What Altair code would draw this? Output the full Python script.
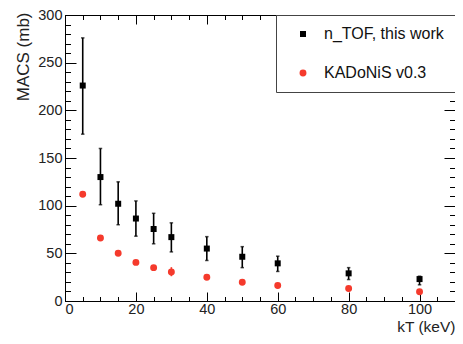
import altair as alt
import pandas as pd

# ---- data ----
kT = [5, 10, 15, 20, 25, 30, 40, 50, 60, 80, 100]
ntof = [226, 130, 102, 86.5, 75.5, 67, 55, 46.4, 39.5, 29, 23]
ntof_lo = [175, 101, 80, 68, 60, 51.5, 42.5, 35, 31, 22.5, 17]
ntof_hi = [276, 160, 125, 105, 92, 82, 67.5, 57, 47, 35, 26]
kad = [112, 66, 50, 40.5, 35, 30.5, 25, 19.7, 16.3, 13.2, 9.7]
kad_lo = [112, 66, 50, 38.5, 35, 26, 25, 19.7, 16.3, 13.2, 9.7]
kad_hi = [112, 66, 50, 42.5, 35, 35.5, 25, 19.7, 16.3, 13.2, 9.7]
series_names = ["n_TOF, this work", "KADoNiS v0.3"]
series_colors = ["#000000", "#f53a2c"]
series_shapes = ["square", "circle"]
x_labels = [0, 20, 40, 60, 80, 100]
x_minor = [0, 5, 10, 15, 20, 25, 30, 35, 40, 45, 50, 55, 60, 65, 70, 75, 80, 85, 90, 95, 100, 105, 110]
y_labels = [0, 50, 100, 150, 200, 250, 300]
y_minor = list(range(0, 301, 10))

W, H = 390, 286
FONT = "Liberation Sans"

df_ntof = pd.DataFrame({"kT": kT, "v": ntof, "lo": ntof_lo, "hi": ntof_hi,
                        "series": series_names[0]})
df_kad = pd.DataFrame({"kT": kT, "v": kad, "lo": kad_lo, "hi": kad_hi,
                       "series": series_names[1]})
df_all = pd.concat([df_ntof, df_kad], ignore_index=True)

xs = alt.Scale(domain=[0, 110], nice=False, zero=False)
ys = alt.Scale(domain=[0, 300], nice=False, zero=False)


def tick_axis(orient, values, size, offset=0):
    kw = dict(orient=orient, values=values, tickSize=size, labels=False,
              domain=False, grid=False, title=None, tickColor="#000",
              tickWidth=1)
    if offset:
        kw["offset"] = offset
    return alt.Axis(**kw)


# labels axes
x_lab = alt.Axis(orient="bottom", values=x_labels, ticks=False, tickSize=0,
                 domain=False, grid=False, labelPadding=1, labelFontSize=14.5,
                 labelFont=FONT, labelColor="#222", title="kT (keV)",
                 titleFont=FONT, titleFontSize=15.5, titleFontWeight="normal",
                 titleColor="#222", titleX=W, titleY=25, titleAlign="right",
                 titleBaseline="middle", titleAnchor="end")
y_lab = alt.Axis(orient="left", values=y_labels, ticks=False, tickSize=0,
                 domain=False, grid=False, labelPadding=3, labelFontSize=14.5,
                 labelFont=FONT, labelColor="#222", title="MACS (mb)",
                 titleFont=FONT, titleFontSize=17, titleFontWeight="normal",
                 titleColor="#222", titleX=-42, titleY=-3, titleAngle=-90,
                 titleAlign="right", titleBaseline="middle", titleAnchor="end")

# L1: black error bars (label axes)
l1 = alt.Chart(df_ntof).mark_rule(color="#000", strokeWidth=1.6).encode(
    x=alt.X("kT:Q", scale=xs, axis=x_lab),
    y=alt.Y("lo:Q", scale=ys, axis=y_lab),
    y2="hi:Q",
)

# L2: red error bars (major inward ticks bottom / left)
l2 = alt.Chart(df_kad).mark_rule(color=series_colors[1], strokeWidth=1.6).encode(
    x=alt.X("kT:Q", scale=xs, axis=tick_axis("top", x_labels, 9, -H)),
    y=alt.Y("lo:Q", scale=ys, axis=tick_axis("right", y_labels, 11, -W)),
    y2="hi:Q",
)

# L3: caps low (minor ticks bottom / left)
l3 = alt.Chart(df_ntof).mark_tick(color="#000", size=3.5, thickness=1.5,
                                  orient="horizontal").encode(
    x=alt.X("kT:Q", scale=xs, axis=tick_axis("top", x_minor, 4.5, -H)),
    y=alt.Y("lo:Q", scale=ys, axis=tick_axis("right", y_minor, 5.5, -W)),
)

# L4: caps high (major ticks top / right)
l4 = alt.Chart(df_ntof).mark_tick(color="#000", size=3.5, thickness=1.5,
                                  orient="horizontal").encode(
    x=alt.X("kT:Q", scale=xs, axis=tick_axis("bottom", x_labels, 9, -H)),
    y=alt.Y("hi:Q", scale=ys, axis=tick_axis("left", y_labels, 11, -W)),
)

legend_kw = dict(title=None, orient="top-right", offset=0,
                 fillColor="white", strokeColor="#444",
                 padding=11, rowPadding=23,
                 symbolSize=28, symbolOffset=8,
                 labelOffset=13, labelFont=FONT,
                 labelFontSize=16, labelColor="#111",
                 symbolStrokeWidth=0)

# L5: points (minor ticks top / right) + legend
l5 = alt.Chart(df_all).mark_point(filled=True, opacity=1).encode(
    x=alt.X("kT:Q", scale=xs, axis=tick_axis("bottom", x_minor, 4.5, -H)),
    y=alt.Y("v:Q", scale=ys, axis=tick_axis("left", y_minor, 5.5, -W)),
    color=alt.Color("series:N",
                    scale=alt.Scale(domain=series_names, range=series_colors),
                    legend=alt.Legend(**legend_kw)),
    shape=alt.Shape("series:N",
                    scale=alt.Scale(domain=series_names, range=series_shapes),
                    legend=alt.Legend(**legend_kw)),
    size=alt.Size("series:N",
                  scale=alt.Scale(domain=series_names, range=[36, 48]),
                  legend=None),
)

chart = alt.layer(l1, l2, l3, l4, l5).resolve_axis(
    x="independent", y="independent"
).properties(
    width=W, height=H,
    autosize=alt.AutoSizeParams(type="none"),
    padding={"left": 57, "top": 7, "right": 0, "bottom": 34},
    background="white",
).configure_view(stroke="#000", strokeWidth=1)

chart.save("out.html", embed_options={"renderer": "svg", "actions": False})
